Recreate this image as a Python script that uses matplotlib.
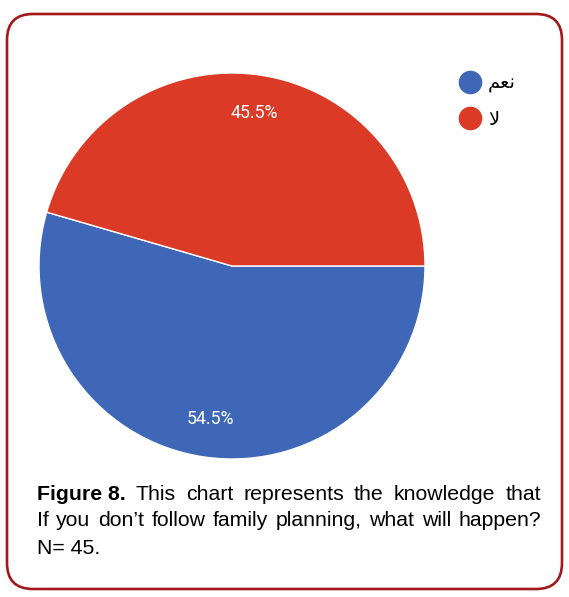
import matplotlib
matplotlib.use("Agg")
from matplotlib import pyplot as plt
from matplotlib.patches import FancyBboxPatch
from matplotlib.lines import Line2D

# data
labels = ["ﻢﻌﻧ", "ﻻ"]          # نعم , لا  (presentation forms, visual order)
values = [54.5, 45.5]
colors = ["#3f67b7", "#db3a26"]

caption_lines = [
    [("Figure 8.", "bold"), ("This", "normal"), ("chart", "normal"), ("represents", "normal"),
     ("the", "normal"), ("knowledge", "normal"), ("that", "normal")],
    [("If", "normal"), ("you", "normal"), ("don\u2019t", "normal"), ("follow", "normal"),
     ("family", "normal"), ("planning,", "normal"), ("what", "normal"), ("will", "normal"),
     ("happen?", "normal")],
    [("N= 45.", "normal")],
]

W, H = 569, 597
fig = plt.figure(figsize=(W / 100, H / 100), dpi=100)

# background frame axes in pixel coords
bg = fig.add_axes([0, 0, 1, 1])
bg.set_xlim(0, W)
bg.set_ylim(H, 0)
bg.axis("off")
frame = FancyBboxPatch((7, 14), 555, 575, boxstyle="round,pad=0,rounding_size=26",
                       fc="white", ec="#a3181b", lw=1.9)
bg.add_patch(frame)

# pie
cx, cy, r = 232, 266, 193
ax = fig.add_axes([(cx - r) / W, (H - cy - r) / H, 2 * r / W, 2 * r / H])
wedges, texts, autotexts = ax.pie(
    values, colors=colors, startangle=360 * values[1] / 100, counterclock=True,
    autopct="%1.1f%%", pctdistance=0.8,
    wedgeprops=dict(edgecolor="white", linewidth=1.0),
    textprops=dict(color="white", fontsize=12.8, family="Roboto"))
ax.set_xlim(-1, 1)
ax.set_ylim(-1, 1)
ax.set_aspect("equal")
ax.axis("off")

# legend
handles = [Line2D([], [], marker="o", ls="", markersize=16, markerfacecolor=c,
                  markeredgecolor=c) for c in colors]
fig.legend(handles, labels, loc="upper left", bbox_to_anchor=(450 / W, 1 - 66 / H),
           frameon=False, handletextpad=0.25, labelspacing=0.85, borderaxespad=0,
           handlelength=1.3, prop=dict(family="DejaVu Sans", size=14))

# caption, justified lines
fig.canvas.draw()
renderer = fig.canvas.get_renderer()
left, right = 37, 541
ys = [494, 521, 549]
for i, words in enumerate(caption_lines):
    arts = []
    for w, weight in words:
        t = bg.text(0, ys[i], w, fontsize=15.3, family="Liberation Sans", weight=weight,
                    va="center", ha="left", color="black")
        arts.append(t)
    widths = [a.get_window_extent(renderer).width for a in arts]
    if i < len(caption_lines) - 1:
        gap = (right - left - sum(widths)) / (len(arts) - 1)
    else:
        gap = 4
    x = left
    for a, wd in zip(arts, widths):
        a.set_x(x)
        x += wd + gap

fig.savefig("out.png", dpi=100)
